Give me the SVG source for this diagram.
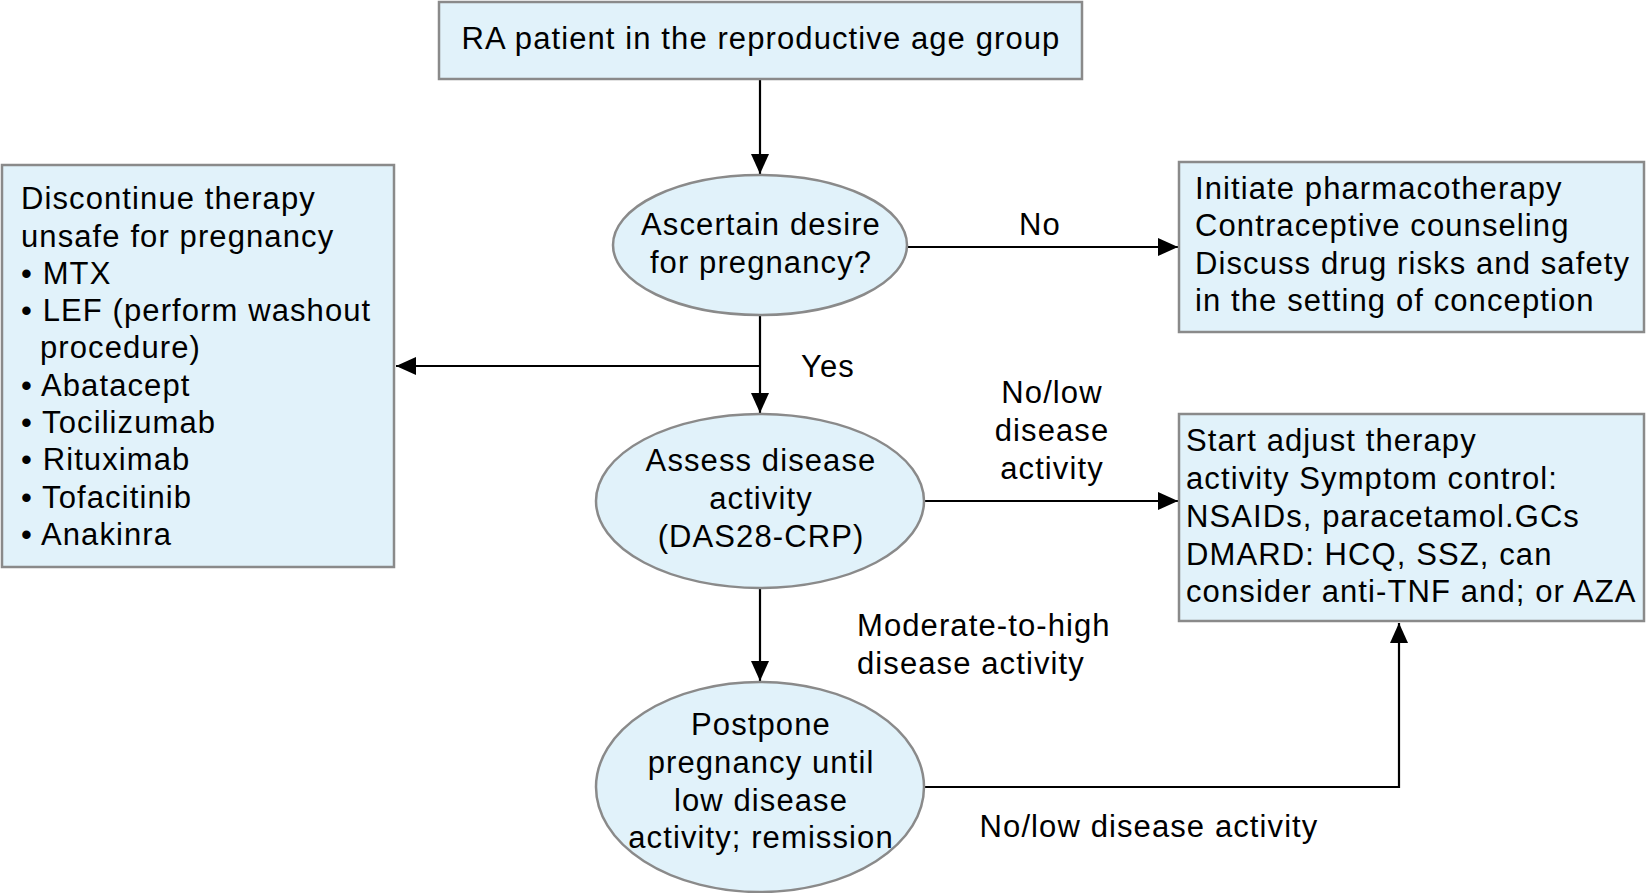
<svg xmlns="http://www.w3.org/2000/svg" width="1646" height="893" viewBox="0 0 1646 893">
<defs>
<marker id="ah" markerWidth="20" markerHeight="18" refX="20" refY="9" orient="auto" markerUnits="userSpaceOnUse" viewBox="0 0 20 18">
<path d="M0,0 L20,9 L0,18 z" fill="#000"/>
</marker>
<style>
.box{fill:#e1f2fa;stroke:#8a8a8a;stroke-width:2.5}
.t{font-family:"Liberation Sans",Arial,sans-serif;font-size:31px;letter-spacing:1.1px;fill:#000}
.c{text-anchor:middle}
.ln{fill:none;stroke:#000;stroke-width:2.2}
</style>
</defs>
<rect width="1646" height="893" fill="#fff"/>
<g id="connectors">
<line class="ln" x1="760" y1="79" x2="760" y2="174" marker-end="url(#ah)"/>
<line class="ln" x1="907" y1="247" x2="1178" y2="247" marker-end="url(#ah)"/>
<line class="ln" x1="760" y1="315" x2="760" y2="413" marker-end="url(#ah)"/>
<line class="ln" x1="760" y1="366" x2="396" y2="366" marker-end="url(#ah)"/>
<line class="ln" x1="924" y1="501" x2="1178" y2="501" marker-end="url(#ah)"/>
<line class="ln" x1="760" y1="588" x2="760" y2="681" marker-end="url(#ah)"/>
<polyline class="ln" points="924,787 1399,787 1399,623" marker-end="url(#ah)"/>
<text class="t c" x="1040" y="235">No</text>
<text class="t c" x="828" y="377">Yes</text>
<text class="t c" x="1052" y="403">No/low</text>
<text class="t c" x="1052" y="441">disease</text>
<text class="t c" x="1052" y="479">activity</text>
<text class="t" x="857" y="636">Moderate-to-high</text>
<text class="t" x="857" y="674">disease activity</text>
<text class="t c" x="1149" y="837">No/low disease activity</text>
</g>
<g id="start">
<rect class="box" x="439" y="2" width="643" height="77"/>
<text class="t c" x="761" y="49">RA patient in the reproductive age group</text>
</g>
<g id="ascertain">
<ellipse class="box" cx="760" cy="245" rx="147" ry="70"/>
<text class="t c" x="761" y="235">Ascertain desire</text>
<text class="t c" x="761" y="273">for pregnancy?</text>
</g>
<g id="initiate">
<rect class="box" x="1179" y="162" width="465" height="170"/>
<text class="t" x="1195" y="199">Initiate pharmacotherapy</text>
<text class="t" x="1195" y="236">Contraceptive counseling</text>
<text class="t" x="1195" y="274">Discuss drug risks and safety</text>
<text class="t" x="1195" y="311">in the setting of conception</text>
</g>
<g id="discontinue">
<rect class="box" x="2" y="165" width="392" height="402"/>
<text class="t" x="21" y="209">Discontinue therapy</text>
<text class="t" x="21" y="247">unsafe for pregnancy</text>
<text class="t" x="21" y="284">• MTX</text>
<text class="t" x="21" y="321">• LEF (perform washout</text>
<text class="t" x="40" y="358">procedure)</text>
<text class="t" x="21" y="396">• Abatacept</text>
<text class="t" x="21" y="433">• Tocilizumab</text>
<text class="t" x="21" y="470">• Rituximab</text>
<text class="t" x="21" y="508">• Tofacitinib</text>
<text class="t" x="21" y="545">• Anakinra</text>
</g>
<g id="assess">
<ellipse class="box" cx="760" cy="501" rx="164" ry="87"/>
<text class="t c" x="761" y="471">Assess disease</text>
<text class="t c" x="761" y="509">activity</text>
<text class="t c" x="761" y="547">(DAS28-CRP)</text>
</g>
<g id="start-adjust">
<rect class="box" x="1179" y="414" width="465" height="207"/>
<text class="t" x="1186" y="451">Start adjust therapy</text>
<text class="t" x="1186" y="489">activity Symptom control:</text>
<text class="t" x="1186" y="527">NSAIDs, paracetamol.GCs</text>
<text class="t" x="1186" y="565">DMARD: HCQ, SSZ, can</text>
<text class="t" x="1186" y="602">consider anti-TNF and; or AZA</text>
</g>
<g id="postpone">
<ellipse class="box" cx="760" cy="787" rx="164" ry="105"/>
<text class="t c" x="761" y="735">Postpone</text>
<text class="t c" x="761" y="773">pregnancy until</text>
<text class="t c" x="761" y="811">low disease</text>
<text class="t c" x="761" y="848">activity; remission</text>
</g>
</svg>
